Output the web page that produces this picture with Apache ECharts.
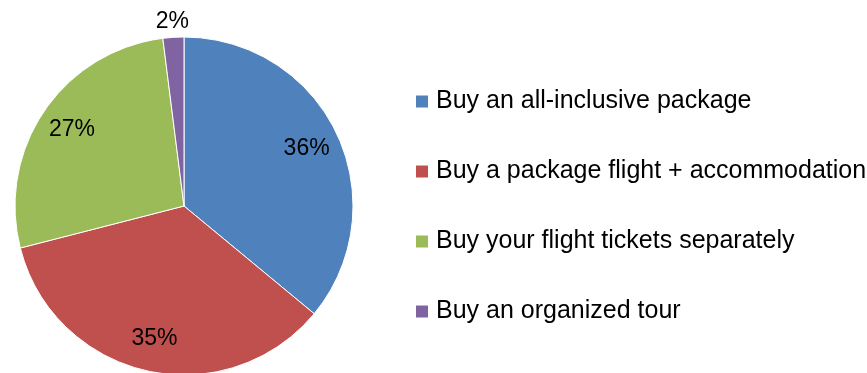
<!DOCTYPE html>
<html>
<head>
<meta charset="utf-8">
<script src="https://cdn.jsdelivr.net/npm/echarts@6/dist/echarts.min.js"></script>
<style>
  html, body { margin: 0; padding: 0; background: #fff; }
  #chart { width: 867px; height: 373px; }
</style>
</head>
<body>
<div id="chart"></div>
<script>
// How travellers arrange their holidays (share of respondents, %)
const categories = [
  'Buy an all-inclusive package',
  'Buy a package flight + accommodation',
  'Buy your flight tickets separately',
  'Buy an organized tour'
];
const shares = [36, 35, 27, 2];
const sliceColors = ['#4F81BD', '#C0504D', '#9BBB59', '#8064A2'];

const FONT = '"Liberation Sans", Arial, sans-serif';
const CENTER = [184, 206];
const R = 169;
const SMALL = 5; // slices below this share get their label outside the pie

const pieData = categories.map((name, i) => ({
  name,
  value: shares[i],
  itemStyle: { color: sliceColors[i] }
}));

// label layers: transparent rings placed over the pie so that the
// "inside" label anchor falls at the wanted distance from the centre
function labelLayer(radius, showFn) {
  return {
    type: 'pie',
    center: CENTER,
    radius: radius,
    silent: true,
    legendHoverLink: false,
    animation: false,
    itemStyle: { color: 'transparent', borderWidth: 0 },
    emphasis: { disabled: true },
    labelLine: { show: false },
    data: categories.map((name, i) => ({
      name: name + ' ',
      value: shares[i],
      label: {
        show: showFn(shares[i]),
        position: 'inside',
        formatter: '{c}%',
        color: '#000',
        fontFamily: FONT,
        fontSize: 23
      }
    }))
  };
}

const chart = echarts.init(document.getElementById('chart'), null, { renderer: 'canvas' });
chart.setOption({
  animation: false,
  backgroundColor: '#fff',
  legend: {
    orient: 'vertical',
    left: 414,
    top: 89,
    padding: 0,
    itemWidth: 14,
    itemHeight: 14,
    itemGap: 45,
    icon: 'rect',
    selectedMode: false,
    data: categories,
    textStyle: {
      fontFamily: FONT,
      fontSize: 25,
      color: '#000',
      padding: [0, 0, 0, 2]
    }
  },
  series: [
    {
      type: 'pie',
      center: CENTER,
      radius: R,
      startAngle: 90,
      clockwise: true,
      silent: true,
      label: { show: false },
      labelLine: { show: false },
      itemStyle: { borderColor: '#fff', borderWidth: 1 },
      data: pieData
    },
    labelLayer([96, R], v => v >= SMALL),
    labelLayer([R, R + 26], v => v < SMALL)
  ]
});
</script>
</body>
</html>
